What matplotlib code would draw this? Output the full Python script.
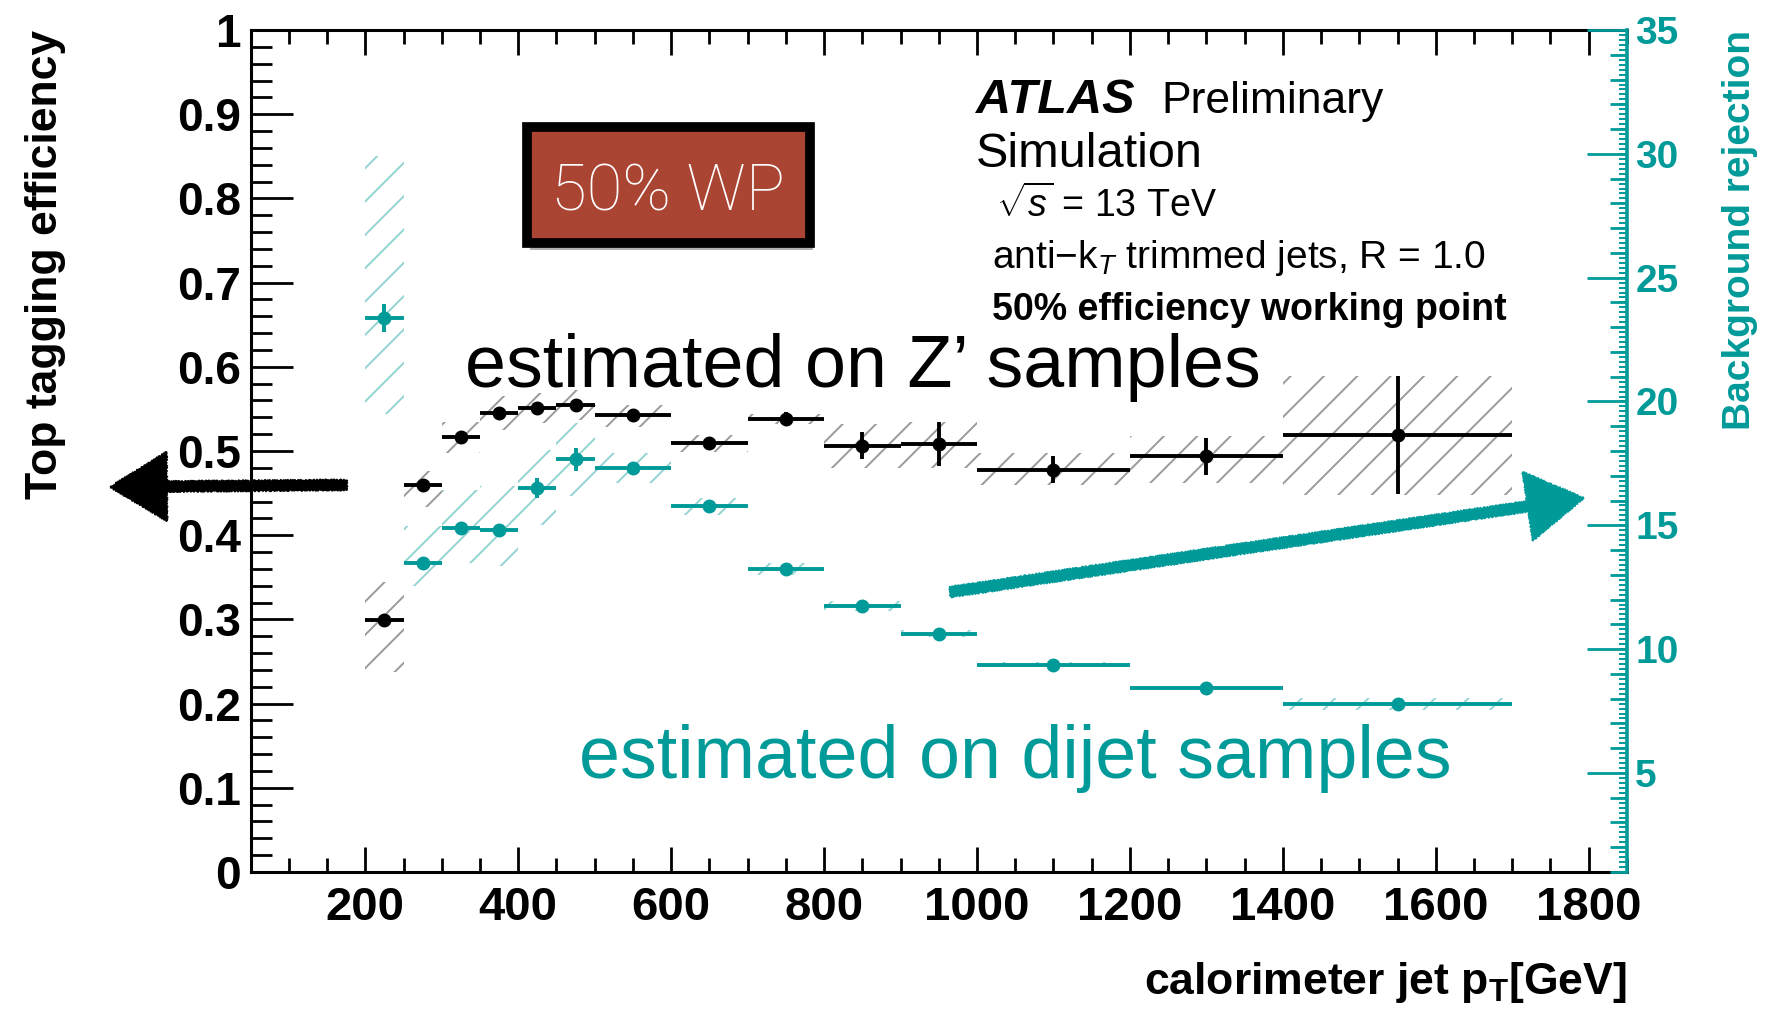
import numpy as np
import matplotlib.pyplot as plt
from matplotlib.ticker import MultipleLocator, FuncFormatter
from matplotlib.patches import Rectangle, FancyArrowPatch
import matplotlib.patheffects as pe

plt.rcParams['font.family'] = ['Liberation Sans', 'DejaVu Sans']
plt.rcParams['mathtext.fontset'] = 'custom'
plt.rcParams['mathtext.rm'] = 'Liberation Sans'
plt.rcParams['mathtext.it'] = 'Liberation Sans:italic'
plt.rcParams['mathtext.bf'] = 'Liberation Sans:bold'
plt.rcParams['hatch.linewidth'] = 1.4

TEAL = '#009a99'

# jet pT bins [GeV]
bin_edges = [200, 250, 300, 350, 400, 450, 500, 600, 700, 800, 900, 1000, 1200, 1400, 1700]

# top tagging efficiency, Z' samples (left axis)
eff = [0.299, 0.460, 0.517, 0.545, 0.551, 0.555, 0.543, 0.509, 0.538, 0.506, 0.508, 0.478, 0.494, 0.519]
eff_stat = [0.006, 0.006, 0.006, 0.006, 0.006, 0.006, 0.006, 0.006, 0.008, 0.016, 0.026, 0.0155, 0.022, 0.070]
eff_syst_dn = [0.061, 0.026, 0.019, 0.020, 0.018, 0.018, 0.014, 0.010, 0.006, 0.026, 0.028, 0.018, 0.032, 0.071]
eff_syst_up = [0.046, 0.016, 0.018, 0.020, 0.018, 0.018, 0.012, 0.010, 0.006, 0.026, 0.026, 0.020, 0.024, 0.070]

# background rejection, dijet samples (right axis)
rej = [23.36, 13.48, 14.9, 14.8, 16.5, 17.66, 17.32, 15.77, 13.24, 11.73, 10.62, 9.37, 8.43, 7.78]
rej_stat = [0.57, 0.15, 0.15, 0.15, 0.40, 0.47, 0.15, 0.15, 0.15, 0.15, 0.15, 0.10, 0.10, 0.10]
rej_syst_dn = [3.86, 0.95, 1.42, 1.45, 1.50, 1.46, 0.60, 0.35, 0.25, 0.20, 0.15, 0.10, 0.10, 0.25]
rej_syst_up = [6.54, 1.48, 1.54, 1.78, 1.56, 1.48, 0.60, 0.35, 0.25, 0.20, 0.15, 0.10, 0.10, 0.25]

edges = np.array(bin_edges, dtype=float)
centers = 0.5 * (edges[1:] + edges[:-1])
widths = np.diff(edges)

fig = plt.figure(figsize=(17.8, 10.15), dpi=100)
ax = fig.add_axes([0.1408, 0.1409, 0.7732, 0.8295])

# efficiency: hatched syst band + stat error bars
e = np.array(eff)
dn = np.array(eff_syst_dn)
up = np.array(eff_syst_up)
ax.bar(centers, dn + up, bottom=e - dn, width=widths, fill=False, hatch='/',
       edgecolor='#9a9a9a', linewidth=0, zorder=1)
ax.errorbar(centers, eff, xerr=widths / 2, yerr=eff_stat, fmt='o', color='black',
            ms=9, elinewidth=2.8, capsize=0, zorder=3)

ax.set_xlim(50, 1850)
ax.set_ylim(0, 1)
ax.xaxis.set_major_locator(MultipleLocator(200))
ax.xaxis.set_minor_locator(MultipleLocator(50))
ax.yaxis.set_major_locator(MultipleLocator(0.1))
ax.yaxis.set_minor_locator(MultipleLocator(0.02))
ax.yaxis.set_major_formatter(FuncFormatter(lambda v, p: f'{v:g}'))
ax.tick_params(axis='x', which='both', direction='in', top=True, width=2, pad=10,
               labelsize=34)
ax.tick_params(axis='x', which='major', length=18)
ax.tick_params(axis='x', which='minor', length=10)
ax.tick_params(axis='y', which='both', direction='in', right=False, width=2, pad=7,
               labelsize=33)
ax.tick_params(axis='y', which='major', length=30)
ax.tick_params(axis='y', which='minor', length=15)
for lab in ax.get_xticklabels() + ax.get_yticklabels():
    lab.set_fontweight('bold')
for s in ['left', 'bottom', 'top']:
    ax.spines[s].set_linewidth(2.2)
ax.spines['right'].set_visible(False)

ax.set_xlabel(r'calorimeter jet $\mathbf{p}_{\mathbf{T}}$[GeV]', fontsize=32,
              fontweight='bold', loc='right')
ax.xaxis.set_label_coords(1.0, -0.105)
ax.set_ylabel('Top tagging efficiency', fontsize=32, fontweight='bold', loc='top')
ax.yaxis.set_label_coords(-0.134, 1.0)

# rejection on the right-hand axis
ax2 = ax.twinx()
r = np.array(rej)
rdn = np.array(rej_syst_dn)
rup = np.array(rej_syst_up)
ax2.bar(centers, rdn + rup, bottom=r - rdn, width=widths, fill=False, hatch='/',
        edgecolor='#93d3d1', linewidth=0, zorder=1)
ax2.errorbar(centers, rej, xerr=widths / 2, yerr=rej_stat, fmt='o', color=TEAL,
             ms=9, elinewidth=2.8, capsize=0, zorder=3)
ax2.set_ylim(1, 35)
ax2.yaxis.set_major_locator(MultipleLocator(5))
ax2.yaxis.set_minor_locator(MultipleLocator(1))
ax2.tick_params(axis='y', which='both', direction='in', colors=TEAL, width=2, pad=6,
                labelsize=28)
ax2.tick_params(axis='y', which='major', length=29)
ax2.tick_params(axis='y', which='minor', length=12)
for lab in ax2.get_yticklabels():
    lab.set_fontweight('bold')
for s in ['left', 'bottom', 'top']:
    ax2.spines[s].set_visible(False)
ax2.spines['right'].set_color(TEAL)
ax2.spines['right'].set_linewidth(2.6)
ax2.set_ylabel('Background rejection', fontsize=28, fontweight='bold', color=TEAL,
               loc='top')
ax2.yaxis.set_label_coords(1.069, 1.0)

# fine teal ticks along the rejection axis
ax3 = ax.twinx()
ax3.set_ylim(1, 35)
ax3.yaxis.set_major_locator(MultipleLocator(0.2))
ax3.tick_params(axis='y', direction='in', colors=TEAL, length=6, width=1.4,
                labelright=False)
for s in ax3.spines.values():
    s.set_visible(False)

# ATLAS labels
ax.text(0.527, 0.901, 'ATLAS', transform=ax.transAxes, fontsize=35,
        fontweight='bold', fontstyle='italic')
ax.text(0.662, 0.901, 'Preliminary', transform=ax.transAxes, fontsize=32)
ax.text(0.527, 0.837, 'Simulation', transform=ax.transAxes, fontsize=35)
ax.text(0.5417, 0.778, r'$\sqrt{s}$ = 13 TeV', transform=ax.transAxes, fontsize=27)
ax.text(0.539, 0.717, r'anti$-$k$_{T}$ trimmed jets, R = 1.0', transform=ax.transAxes,
        fontsize=28)
ax.text(0.539, 0.656, '50% efficiency working point', transform=ax.transAxes,
        fontsize=27, fontweight='bold')

# annotations
ax.text(0.1557, 0.576, 'estimated on Z\u2019 samples', transform=ax.transAxes,
        fontsize=53, color='black', zorder=5)
ax.text(0.2386, 0.1116, 'estimated on dijet samples', transform=ax.transAxes,
        fontsize=53, color=TEAL, zorder=5)

box = Rectangle((0.2008, 0.747), 0.2057, 0.1378, transform=ax.transAxes,
                facecolor='#aa4433', edgecolor='black', linewidth=7, zorder=6)
box.set_path_effects([pe.SimplePatchShadow(offset=(2, -5), shadow_rgbFace='#555555',
                                           alpha=0.45), pe.Normal()])
ax.add_patch(box)
ax.text(0.3036, 0.786, '50% WP', transform=ax.transAxes, fontsize=47, color='white',
        ha='center', family=['Roboto', 'Liberation Sans'], fontweight='light',
        zorder=7)

arrow_style = 'simple,head_length=4.1,head_width=5.0,tail_width=0.75'
left_arrow = FancyArrowPatch((0.1949, 0.5222), (0.0618, 0.5202), transform=fig.transFigure,
                             arrowstyle=arrow_style, mutation_scale=10, color='black',
                             shrinkA=0, shrinkB=0)
left_arrow.set_sketch_params(scale=0.8, length=3, randomness=2)
fig.add_artist(left_arrow)
right_arrow = FancyArrowPatch((0.5337, 0.4167), (0.8899, 0.5094), transform=fig.transFigure,
                              arrowstyle=arrow_style, mutation_scale=10, color=TEAL,
                              shrinkA=0, shrinkB=0)
right_arrow.set_sketch_params(scale=0.8, length=3, randomness=2)
fig.add_artist(right_arrow)

fig.savefig('out.png', dpi=100)
